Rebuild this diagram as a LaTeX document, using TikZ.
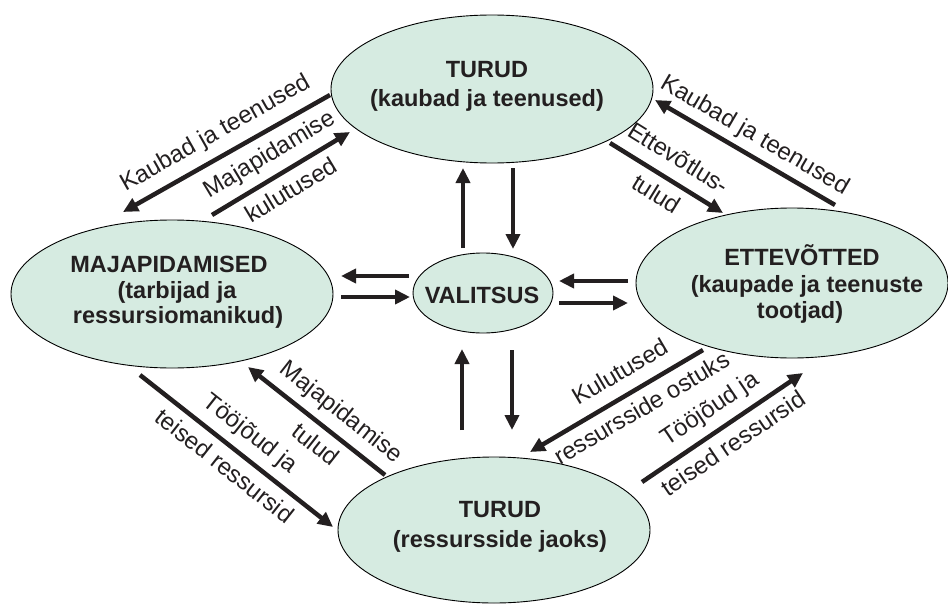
\documentclass[tikz,border=0pt]{standalone}
\usepackage{fontspec}
\setmainfont{Liberation Sans}
\usetikzlibrary{shapes.geometric,arrows.meta}
\definecolor{blobfill}{RGB}{214,235,225}
\definecolor{ink}{RGB}{35,31,32}

\begin{document}
\begin{tikzpicture}[x=1pt,y=-1pt,
  blob/.style={ellipse, draw=black, line width=0.9pt, fill=blobfill, inner sep=0pt},
  title/.style={font=\fontsize{23.5}{28}\selectfont\bfseries, text=ink, inner sep=0pt, anchor=base},
  flow/.style={draw=ink, line width=4.5pt, -{Triangle[length=15pt,width=14pt]}},
  lbl/.style={font=\fontsize{24}{28}\selectfont, text=ink, inner sep=0pt, sloped,
              text height=17pt, text depth=5pt},
]
\useasboundingbox (0,0) rectangle (948,605);

% sectors of the economy
\node[blob, minimum width=322, minimum height=148] (mtop) at (492,89) {};
\node[blob, minimum width=322, minimum height=148] (home) at (172,294) {};
\node[blob, minimum width=312, minimum height=150] (firm) at (792,283) {};
\node[blob, minimum width=312, minimum height=146] (mres) at (494,530) {};
\node[blob, minimum width=140, minimum height=80] (gov) at (483,293) {};

% their names
\node[title] (mtop1) at (487,77) {TURUD};
\node[title] (mtop2) at (487,106) {(kaubad ja teenused)};
\node[title] (home1) at (169,272) {MAJAPIDAMISED};
\node[title] (home2) at (177,298) {(tarbijad ja};
\node[title] (home3) at (178,323) {ressursiomanikud)};
\node[title] (firm1) at (802,265) {ETTEVÕTTED};
\node[title] (firm2) at (807,292) {(kaupade ja teenuste};
\node[title] (firm3) at (800,318) {tootjad)};
\node[title] (mres1) at (500,517) {TURUD};
\node[title] (mres2) at (500,547) {(ressursside jaoks)};
\node[title] (gov1) at (482,303) {VALITSUS};

% ends of the diagonal flows
\coordinate (tlA) at (330,95);  \coordinate (tlB) at (123,212);
\coordinate (tlC) at (212,215); \coordinate (tlD) at (350,132);
\coordinate (trA) at (835,205); \coordinate (trB) at (655,100);
\coordinate (trC) at (610,143); \coordinate (trD) at (723,213);
\coordinate (blA) at (140,375); \coordinate (blB) at (333,527);
\coordinate (blC) at (385,475); \coordinate (blD) at (248,367);
\coordinate (brA) at (703,350); \coordinate (brB) at (530,452);
\coordinate (brC) at (642,482); \coordinate (brD) at (803,373);

% ends of the flows to and from the government
\coordinate (vu1) at (463,248); \coordinate (vu2) at (463,168);
\coordinate (vd1) at (513,168); \coordinate (vd2) at (513,249);
\coordinate (wu1) at (462,430); \coordinate (wu2) at (462,349);
\coordinate (wd1) at (512,350); \coordinate (wd2) at (512,430);
\coordinate (hl1) at (409,276); \coordinate (hl2) at (341,276);
\coordinate (hr1) at (341,297); \coordinate (hr2) at (410,297);
\coordinate (gl1) at (628,281); \coordinate (gl2) at (559,281);
\coordinate (gr1) at (559,303); \coordinate (gr2) at (628,303);

% goods market <-> households
\draw[flow] (tlA) -- (tlB) node[lbl, midway, above=9pt] (l1) {Kaubad ja teenused};
\draw[flow] (tlC) -- (tlD)
  node[lbl, midway, above=8pt] (l2a) {Majapidamise}
  node[lbl, midway, below=8pt] (l2b) {kulutused};

% goods market <-> firms
\draw[flow] (trA) -- (trB) node[lbl, midway, above=6pt] (l3) {Kaubad ja teenused};
\draw[flow] (trC) -- (trD)
  node[lbl, midway, above=8pt] (l4a) {Ettevõtlus-}
  node[lbl, midway, below=8pt] (l4b) {tulud};

% households <-> resource market
\draw[flow] (blA) -- (blB)
  node[lbl, midway, above=8pt] (l5a) {Tööjõud ja}
  node[lbl, midway, below=8pt] (l5b) {teised ressursid};
\draw[flow] (blC) -- (blD)
  node[lbl, pos=0.42, above=8pt] (l6a) {Majapidamise}
  node[lbl, pos=0.42, below=8pt] (l6b) {tulud};

% firms <-> resource market
\draw[flow] (brA) -- (brB)
  node[lbl, pos=0.41, above=8pt] (l7a) {Kulutused}
  node[lbl, pos=0.41, below=8pt] (l7b) {ressursside ostuks};
\draw[flow] (brC) -- (brD)
  node[lbl, midway, above=8pt] (l8a) {Tööjõud ja}
  node[lbl, midway, below=8pt] (l8b) {teised ressursid};

% government flows
\draw[flow] (vu1) -- (vu2);
\draw[flow] (vd1) -- (vd2);
\draw[flow] (wu1) -- (wu2);
\draw[flow] (wd1) -- (wd2);
\draw[flow] (hl1) -- (hl2);
\draw[flow] (hr1) -- (hr2);
\draw[flow] (gl1) -- (gl2);
\draw[flow] (gr1) -- (gr2);
\end{tikzpicture}
\end{document}
